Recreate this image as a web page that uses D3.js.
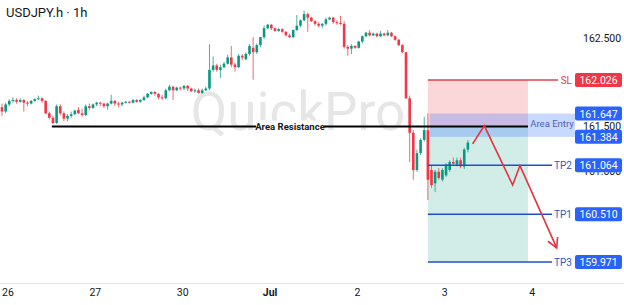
<!DOCTYPE html>
<html>
<head>
<meta charset="utf-8">
<script src="https://cdn.jsdelivr.net/npm/d3@7"></script>
<style>
  body { margin: 0; background: #fff; }
  svg { font-family: Roboto, "Liberation Sans", sans-serif; }
</style>
</head>
<body>
<script>
// hourly candles, USDJPY.h
var opens = [161.72,161.67,161.75,161.79,161.80,161.78,161.80,161.77,161.76,161.79,161.81,161.82,161.79,161.65,161.60,161.54,161.73,161.65,161.59,161.62,
  161.64,161.69,161.65,161.63,161.73,161.71,161.75,161.77,161.76,161.73,161.76,161.79,161.76,161.75,161.77,161.78,161.77,161.80,161.78,161.80,
  161.83,161.87,161.89,161.87,161.83,161.82,161.91,161.95,161.91,161.94,161.93,161.96,161.93,161.90,161.91,161.88,161.91,161.93,162.14,162.19,
  162.14,162.17,162.21,162.28,162.20,162.17,162.30,162.26,162.32,162.39,162.34,162.42,162.51,162.61,162.65,162.61,162.58,162.60,162.57,162.53,
  162.51,162.59,162.64,162.70,162.77,162.73,162.69,162.66,162.64,162.66,162.71,162.73,162.68,162.67,162.66,162.40,162.38,162.41,162.39,162.46,
  162.52,162.56,162.53,162.55,162.52,162.55,162.53,162.56,162.52,162.48,162.42,162.34,161.82,161.43,161.01,161.20,161.35,161.46,161.01,160.86,
  160.99,160.90,160.95,161.01,161.10,161.07,161.12,161.05,161.24];
var highs = [161.76,161.77,161.81,161.83,161.82,161.82,161.81,161.79,161.80,161.82,161.85,161.83,161.80,161.67,161.62,161.75,161.75,161.67,161.64,161.67,
  161.69,161.72,161.70,161.75,161.76,161.76,161.78,161.78,161.77,161.77,161.86,161.80,161.78,161.78,161.79,161.79,161.81,161.81,161.81,161.85,
  161.88,161.90,161.90,161.88,161.86,161.93,161.97,161.96,161.95,161.95,161.97,161.97,161.94,161.93,161.93,161.93,161.95,162.43,162.29,162.21,
  162.20,162.23,162.31,162.41,162.22,162.32,162.32,162.34,162.43,162.51,162.44,162.51,162.64,162.66,162.66,162.62,162.61,162.61,162.58,162.55,
  162.60,162.76,162.71,162.81,162.79,162.74,162.70,162.68,162.67,162.73,162.74,162.74,162.70,162.75,162.69,162.42,162.43,162.42,162.47,162.53,
  162.57,162.59,162.56,162.56,162.58,162.56,162.59,162.57,162.53,162.49,162.43,162.34,161.85,161.46,161.24,161.37,161.61,161.65,161.07,161.01,
  161.03,161.03,161.09,161.12,161.15,161.15,161.15,161.26,161.35];
var lows = [161.62,161.65,161.73,161.77,161.76,161.77,161.67,161.73,161.75,161.78,161.80,161.77,161.64,161.58,161.53,161.53,161.63,161.56,161.56,161.60,
  161.63,161.64,161.61,161.62,161.69,161.70,161.73,161.73,161.71,161.69,161.75,161.73,161.72,161.73,161.76,161.76,161.76,161.77,161.77,161.79,
  161.82,161.86,161.85,161.81,161.80,161.81,161.90,161.80,161.90,161.91,161.91,161.90,161.89,161.88,161.87,161.87,161.90,161.91,162.12,162.12,
  162.05,162.16,162.20,162.17,162.12,162.16,162.25,162.25,162.30,162.03,162.32,162.40,162.49,162.60,162.59,162.57,162.57,162.56,162.52,162.50,
  162.50,162.58,162.62,162.69,162.57,162.68,162.64,162.62,162.61,162.64,162.70,162.66,162.65,162.65,162.38,162.30,162.32,162.38,162.38,162.44,
  162.51,162.52,162.52,162.51,162.51,162.52,162.52,162.51,162.47,162.41,162.33,161.81,161.10,160.90,160.99,161.18,161.33,160.67,160.81,160.76,
  160.90,160.88,160.93,160.99,161.07,161.05,161.03,161.02,161.21];
var closes = [161.67,161.75,161.79,161.80,161.78,161.80,161.77,161.76,161.79,161.81,161.82,161.79,161.65,161.60,161.54,161.73,161.65,161.59,161.62,161.64,
  161.68,161.65,161.63,161.73,161.71,161.75,161.77,161.76,161.73,161.76,161.79,161.76,161.75,161.77,161.78,161.77,161.80,161.78,161.80,161.83,
  161.87,161.89,161.87,161.83,161.82,161.91,161.95,161.91,161.94,161.93,161.96,161.93,161.90,161.91,161.88,161.91,161.93,162.14,162.19,162.14,
  162.17,162.21,162.28,162.20,162.17,162.30,162.28,162.32,162.41,162.34,162.42,162.51,162.61,162.65,162.61,162.58,162.60,162.57,162.53,162.51,
  162.59,162.64,162.70,162.77,162.73,162.69,162.66,162.64,162.66,162.71,162.73,162.68,162.67,162.66,162.40,162.38,162.41,162.39,162.46,162.52,
  162.56,162.53,162.55,162.52,162.55,162.53,162.56,162.52,162.48,162.42,162.34,161.82,161.43,161.01,161.20,161.35,161.46,160.90,160.84,160.99,
  160.92,161.01,161.07,161.10,161.08,161.12,161.05,161.24,161.32];

// time axis: candle index where each day label sits
var dayLabels = ["26", "27", "30", "Jul", "2", "3", "4"];
var dayIndex = [1.5, 25.5, 49.5, 73.5, 97.5, 121.5, 145.5];

// price axis ticks that are not hidden behind a price tag
var priceTicks = [161.0, 161.5, 162.5];

// trade setup
var resistance = 161.5;
var entryTop = 161.647, entryBottom = 161.384;
var levelNames = ["SL", "TP2", "TP1", "TP3"];
var levelValues = [162.026, 161.064, 160.510, 159.971];
// projected path drawn on chart: [candle index, price]
var pathIdx = [129.3, 132.5, 140.3, 142.3, 152.4];
var pathPrice = [161.305, 161.51, 160.84, 161.06, 160.13];

var width = 624, height = 305;
var green = "#089981", red = "#f23645", blue = "#2962ff";

var svg = d3.select("body").append("svg")
    .attr("width", width)
    .attr("height", height);

svg.append("rect").attr("width", width).attr("height", height).attr("fill", "#fff");

var x = d3.scaleLinear().domain([0, 128]).range([2, 467.9]);
var y = d3.scaleLinear().domain([159.971, 162.026]).range([262, 80]);

//watermark
svg.append("text")
    .attr("x", 298).attr("y", 130)
    .attr("text-anchor", "middle")
    .attr("font-size", 53)
    .attr("fill", "#e6e6e6")
    .text("QuickPro");

//zones: stop (pink) and target (green)
var zx0 = x(117), zx1 = x(144.5);
svg.append("rect")
    .attr("x", zx0).attr("width", zx1 - zx0)
    .attr("y", y(levelValues[0])).attr("height", y(resistance) - y(levelValues[0]))
    .attr("fill", "rgba(242,54,69,0.2)");
svg.append("rect")
    .attr("x", zx0).attr("width", zx1 - zx0)
    .attr("y", y(resistance)).attr("height", y(levelValues[3]) - y(resistance))
    .attr("fill", "rgba(8,153,129,0.18)");
svg.append("rect")
    .attr("x", x(117.5)).attr("width", 575 - x(117.5))
    .attr("y", y(entryTop)).attr("height", y(entryBottom) - y(entryTop))
    .attr("fill", "rgba(41,98,255,0.25)");

//candles
var idx = d3.range(opens.length);
var candles = svg.append("g").selectAll("g").data(idx).join("g");
candles.append("line")
    .attr("x1", i => x(i)).attr("x2", i => x(i))
    .attr("y1", i => y(highs[i])).attr("y2", i => y(lows[i]))
    .attr("stroke", i => closes[i] >= opens[i] ? green : red)
    .attr("stroke-opacity", 0.75)
    .attr("stroke-width", 1);
candles.append("rect")
    .attr("x", i => x(i) - 1.3)
    .attr("width", 2.6)
    .attr("y", i => y(Math.max(opens[i], closes[i])))
    .attr("height", i => Math.max(1, Math.abs(y(opens[i]) - y(closes[i]))))
    .attr("fill", i => closes[i] >= opens[i] ? green : red);

//area resistance
svg.append("line")
    .attr("x1", x(13.7)).attr("x2", zx1)
    .attr("y1", y(resistance)).attr("y2", y(resistance))
    .attr("stroke", "#000").attr("stroke-width", 2);
var resLabel = svg.append("g");
resLabel.append("rect")
    .attr("x", 256).attr("y", y(resistance) - 6)
    .attr("width", 68).attr("height", 12)
    .attr("fill", "#fff");
resLabel.append("text")
    .attr("x", 290).attr("y", y(resistance) + 3.5)
    .attr("text-anchor", "middle")
    .attr("font-size", 9.5).attr("font-weight", 700)
    .attr("fill", "#131722")
    .text("Area Resistance");

//SL / TP lines
levelValues.forEach(function (v, i) {
    var isSL = levelNames[i] == "SL";
    svg.append("line")
        .attr("x1", zx0).attr("x2", isSL ? 558 : 552)
        .attr("y1", y(v)).attr("y2", y(v))
        .attr("stroke", isSL ? "#e0434f" : "#1f4fd0")
        .attr("stroke-width", 1.6);
    svg.append("text")
        .attr("x", 572).attr("y", y(v) + 3.5)
        .attr("text-anchor", "end")
        .attr("font-size", 10)
        .attr("fill", isSL ? "#e0434f" : "#2f55c8")
        .text(levelNames[i]);
});

svg.append("text")
    .attr("x", 552).attr("y", y((entryTop + entryBottom) / 2) + 2)
    .attr("text-anchor", "middle")
    .attr("font-size", 9.5)
    .attr("fill", "#4a62b0")
    .text("Area Entry");

//projected move arrow
var pts = pathIdx.map((d, i) => [x(d), y(pathPrice[i])]);
svg.append("path")
    .attr("d", d3.line()(pts))
    .attr("fill", "none")
    .attr("stroke", "#e5323f")
    .attr("stroke-width", 1.6);
var tip = pts[pts.length - 1], prev = pts[pts.length - 2];
var ang = Math.atan2(tip[1] - prev[1], tip[0] - prev[0]);
var head = [ang + Math.PI - 0.5, ang + Math.PI + 0.5].map(a => [tip[0] + 11 * Math.cos(a), tip[1] + 11 * Math.sin(a)]);
svg.append("path")
    .attr("d", d3.line()([head[0], tip, head[1]]))
    .attr("fill", "none")
    .attr("stroke", "#e5323f")
    .attr("stroke-width", 1.6);

//price axis
var yAxis = svg.append("g")
    .attr("transform", "translate(583,0)")
    .call(d3.axisRight(y).tickValues(priceTicks).tickFormat(d3.format(".3f")).tickSize(0).tickPadding(0));
yAxis.select(".domain").remove();
yAxis.selectAll("text").attr("font-size", 10.5).attr("fill", "#131722").attr("font-family", "Roboto");

//price tags
var tags = [entryTop, entryBottom].concat(levelValues);
var tagColors = [blue, blue, red, blue, blue, blue];
tags.forEach(function (v, i) {
    svg.append("rect")
        .attr("x", 575).attr("y", y(v) - 7)
        .attr("width", 47).attr("height", 14)
        .attr("rx", 2)
        .attr("fill", tagColors[i]);
    svg.append("text")
        .attr("x", 598.5).attr("y", y(v) + 4)
        .attr("text-anchor", "middle")
        .attr("font-size", 10.5)
        .attr("fill", "#fff")
        .text(d3.format(".3f")(v));
});

//time axis
svg.append("line")
    .attr("x1", 0).attr("x2", width)
    .attr("y1", 283.5).attr("y2", 283.5)
    .attr("stroke", "#e0e3eb");
var xAxis = svg.append("g")
    .attr("transform", "translate(0,283)")
    .call(d3.axisBottom(x).tickValues(dayIndex).tickFormat((d, i) => dayLabels[i]).tickSize(0).tickPadding(6));
xAxis.select(".domain").remove();
xAxis.selectAll("text")
    .attr("font-size", 10.5).attr("fill", "#131722").attr("font-family", "Roboto")
    .attr("font-weight", (d, i) => dayLabels[i] == "Jul" ? 700 : 400);

//title
svg.append("text")
    .attr("x", 6).attr("y", 17)
    .attr("font-size", 13)
    .attr("fill", "#131722")
    .text("USDJPY.h · 1h");
</script>
</body>
</html>
